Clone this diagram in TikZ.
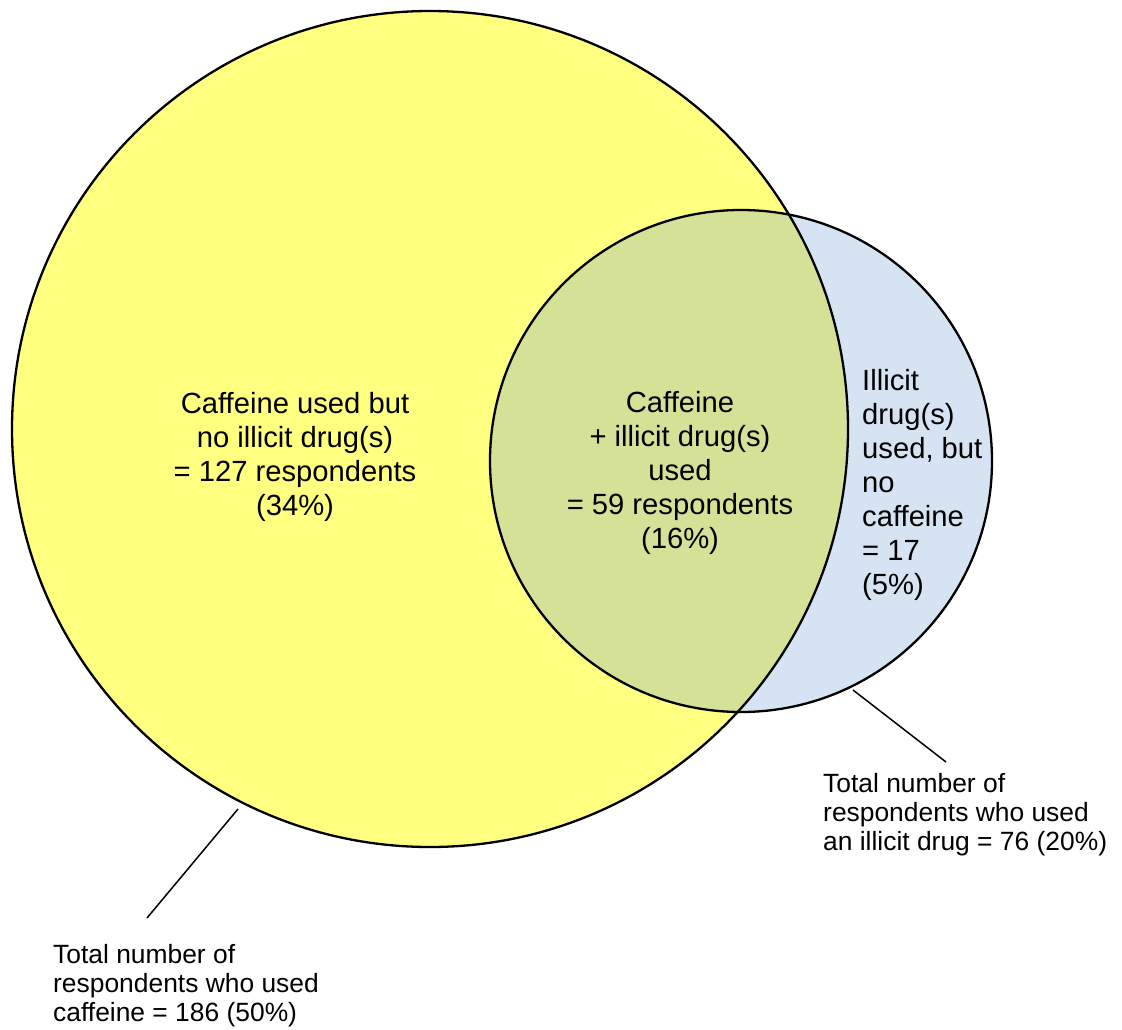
\documentclass[tikz,border=0pt]{standalone}
\usepackage{fontspec}
\setmainfont{Liberation Sans}
\definecolor{cafyellow}{HTML}{FFFF80}
\definecolor{illblue}{HTML}{D6E3F2}
\definecolor{bothgreen}{HTML}{D5E196}
\begin{document}
\begin{tikzpicture}[x=1pt,y=-1pt,
  ring/.style={draw=black,line width=2.3pt},
  leader/.style={draw=black,line width=1.5pt},
  intext/.style={inner sep=0pt,anchor=north,align=center,font=\fontsize{29.2}{34}\selectfont},
  sidetext/.style={inner sep=0pt,anchor=north west,align=left,font=\fontsize{29.2}{34}\selectfont},
  totaltext/.style={inner sep=0pt,anchor=north west,align=left,font=\fontsize{26.4}{29.2}\selectfont}]
\useasboundingbox (0,0) rectangle (1122,1030);
\coordinate (bigc) at (430,429);
\coordinate (smallc) at (741,461);
% fills
\fill[cafyellow] (bigc) circle[radius=418pt];
\fill[illblue] (smallc) circle[radius=251pt];
\begin{scope}
  \clip (bigc) circle[radius=418pt];
  \fill[bothgreen] (smallc) circle[radius=251pt];
\end{scope}
% outlines
\draw[ring] (bigc) circle[radius=418pt];
\draw[ring] (smallc) circle[radius=251pt];
% texts
\node[intext] (cafonly) at (295,392) {Caffeine used but\\no illicit drug(s)\\= 127 respondents\\(34\%)};
\node[intext] (both) at (680,391) {Caffeine\\+ illicit drug(s)\\used\\= 59 respondents\\(16\%)};
\node[sidetext] (illonly) at (862,369) {Illicit\\drug(s)\\used, but\\no\\caffeine\\= 17\\(5\%)};
\node[totaltext] (totcaf) at (53,944) {Total number of\\respondents who used\\caffeine = 186 (50\%)};
\node[totaltext] (totill) at (823,773) {Total number of\\respondents who used\\an illicit drug = 76 (20\%)};
% leaders
\coordinate (lcafa) at (238,809);
\coordinate (lcafb) at (147,918);
\coordinate (lilla) at (853,690);
\coordinate (lillb) at (946,762);
\draw[leader] (lcafa) -- (lcafb);
\draw[leader] (lilla) -- (lillb);
\end{tikzpicture}
\end{document}
